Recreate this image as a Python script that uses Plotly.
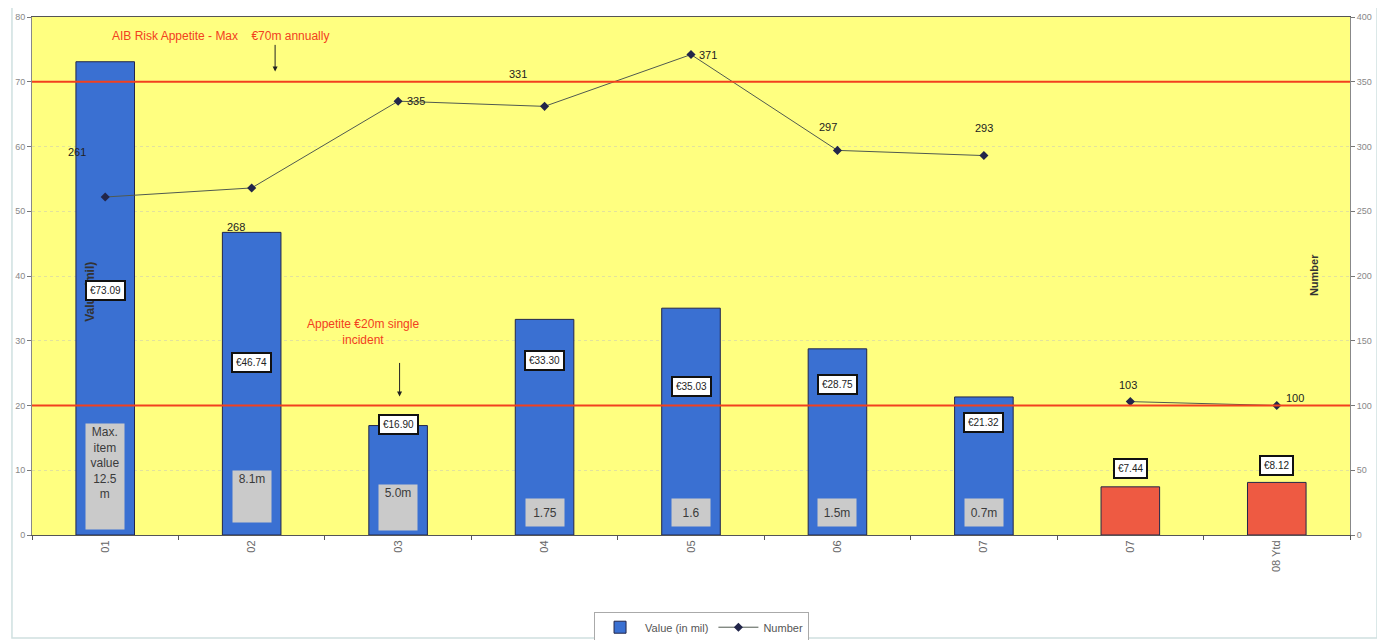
import plotly.graph_objects as go

# periods on the x axis (two separate "07" bars: old and new basis)
periods = ["01", "02", "03", "04", "05", "06", "07", "07", "08 Ytd"]
value_mil = [73.09, 46.74, 16.90, 33.30, 35.03, 28.75, 21.32, 7.44, 8.12]
value_labels = ["€73.09", "€46.74", "€16.90", "€33.30", "€35.03", "€28.75", "€21.32", "€7.44", "€8.12"]
number = [261, 268, 335, 331, 371, 297, 293, 103, 100]
max_item = ["Max.<br>item<br>value<br>12.5<br>m", "8.1m", "5.0m", "1.75", "1.6", "1.5m", "0.7m"]

FONT = "Liberation Sans Narrow, Arial Narrow, Liberation Sans, Arial"
BLUE = "#3A70D2"
RED = "#EE5A42"
LINE_RED = "#F2401E"

idx = list(range(len(periods)))
n_old = len(max_item)  # bars on the old basis are blue

bar_colors = [BLUE if i < n_old else RED for i in idx]

# the number line is broken between the two "07" periods
line_x = idx[:n_old] + [None] + idx[n_old:]
line_y = number[:n_old] + [None] + number[n_old:]

fig = go.Figure()

fig.add_trace(go.Bar(
    x=idx, y=value_mil, name="Value (in mil)",
    width=0.4,
    marker=dict(color=bar_colors, line=dict(color="#22264a", width=1)),
    hoverinfo="skip",
))

fig.add_trace(go.Scatter(
    x=line_x, y=line_y, name="Number", yaxis="y2",
    mode="lines+markers",
    line=dict(color="#505a50", width=1),
    marker=dict(symbol="diamond", size=7, color="#22264a"),
    connectgaps=False,
))

# label offsets for the line values (px), roughly where Excel dropped them
line_label_shift = [(-28, 45), (-16, -39), (18, 0), (-27, 32), (17, 0),
                    (-9, 23), (0, 28), (-2, 17), (18, 8)]
for i, (dx, dy) in zip(idx, line_label_shift):
    fig.add_annotation(x=i, y=number[i], xref="x", yref="y2", text=str(number[i]),
                       showarrow=False, xshift=dx, yshift=dy,
                       font=dict(family=FONT, size=11, color="#222222"))

# left axis title, mostly hidden behind the first label box
fig.add_annotation(x=-0.1, y=37.5, xref="x", yref="y", text="<b>Value (mil)</b>",
                   textangle=-90, showarrow=False,
                   font=dict(family="Liberation Sans, Arial", size=12, color="#333333"))

# boxed value labels on the bars
box_y = [37.8, 26.7, 17.0, 27.0, 22.9, 23.2, 17.3, 10.3, 10.8]
for i in idx:
    fig.add_annotation(x=i, y=box_y[i], xref="x", yref="y", text=value_labels[i],
                       showarrow=False, bgcolor="white", bordercolor="#111111",
                       borderwidth=2, borderpad=3,
                       font=dict(family=FONT, size=10, color="#222222"))

# grey "max item" boxes at the foot of the blue bars
gray_y = [9.1, 5.9, 4.2, 3.5, 3.5, 3.5, 3.5]
gray_h = [103, 49, 43, 25, 25, 25, 25]
for i, txt in enumerate(max_item):
    fig.add_annotation(x=i, y=gray_y[i], xref="x", yref="y", text=txt,
                       showarrow=False, bgcolor="#CACACA", width=36, height=gray_h[i],
                       valign="top" if i < 3 else "middle",
                       font=dict(family=FONT, size=12, color="#3a3a3a"))

# appetite annotations with arrows
fig.add_annotation(x=0.03, y=77.1, xref="x", yref="y", xanchor="left",
                   text="AIB Risk Appetite - Max    €70m annually", showarrow=False,
                   font=dict(family=FONT, size=12, color=LINE_RED))
fig.add_annotation(x=1.16, y=71.6, xref="x", yref="y", text="", showarrow=True,
                   ax=0, ay=-28, arrowhead=2, arrowsize=1, arrowwidth=1, arrowcolor="#222222")
fig.add_annotation(x=1.76, y=31.4, xref="x", yref="y",
                   text="Appetite €20m single<br>incident", showarrow=False,
                   font=dict(family=FONT, size=12, color=LINE_RED))
fig.add_annotation(x=2.01, y=21.4, xref="x", yref="y", text="", showarrow=True,
                   ax=0, ay=-35, arrowhead=2, arrowsize=1, arrowwidth=1, arrowcolor="#222222")

# right axis title inside the plot
fig.add_annotation(x=8.25, y=201, xref="x", yref="y2", text="<b>Number</b>",
                   textangle=-90, showarrow=False,
                   font=dict(family="Liberation Sans, Arial", size=11, color="#333333"))

# appetite limit lines
for lim in [70, 20]:
    fig.add_shape(type="line", xref="paper", yref="y", x0=0, x1=1, y0=lim, y1=lim,
                  line=dict(color=LINE_RED, width=2))

# light frame round the whole chart
fig.add_shape(type="rect", xref="paper", yref="paper",
              x0=-0.0152, x1=1.0205, y0=-0.1988, y1=1.0232,
              line=dict(color="#CFE0E0", width=1.5), layer="below")

# the page body adds an 8px margin, so the figure is 8px smaller
fig.update_layout(
    width=1377, height=632,
    margin=dict(l=24, r=35, t=9, b=105, autoexpand=False),
    paper_bgcolor="white",
    plot_bgcolor="#FFFF80",
    font=dict(family=FONT, color="#555555"),
    bargap=0.6,
    showlegend=True,
    legend=dict(orientation="h", x=0.508, y=-0.178, xanchor="center", yanchor="middle",
                bordercolor="#AAAAAA", borderwidth=1, bgcolor="white",
                font=dict(family=FONT, size=11, color="#555555"),
                itemwidth=40, tracegroupgap=0),
    xaxis=dict(
        range=[-0.5, 8.5], tickvals=idx, ticktext=periods, tickangle=-90,
        ticks="", showgrid=False, zeroline=False,
        showline=True, linecolor="#555555", linewidth=1, mirror=True,
        minor=dict(ticks="outside", tick0=0.5, dtick=1, ticklen=4, tickcolor="#555555"),
        tickfont=dict(family=FONT, size=11, color="#666666"),
        automargin=False,
    ),
    yaxis=dict(
        range=[0, 80], dtick=10, ticks="outside", ticklen=4, tickcolor="#777777",
        showline=True, linecolor="#888888", linewidth=1,
        showgrid=True, gridcolor="rgba(190,190,190,0.45)", griddash="dot",
        zeroline=False, tickfont=dict(family=FONT, size=9, color="#888888"),
        automargin=False,
    ),
    yaxis2=dict(
        range=[0, 400], dtick=50, overlaying="y", side="right",
        ticks="outside", ticklen=4, tickcolor="#777777",
        showline=True, linecolor="#888888", linewidth=1,
        showgrid=False, zeroline=False,
        tickfont=dict(family=FONT, size=9, color="#888888"),
        automargin=False,
    ),
)

fig.write_html("out.html")
